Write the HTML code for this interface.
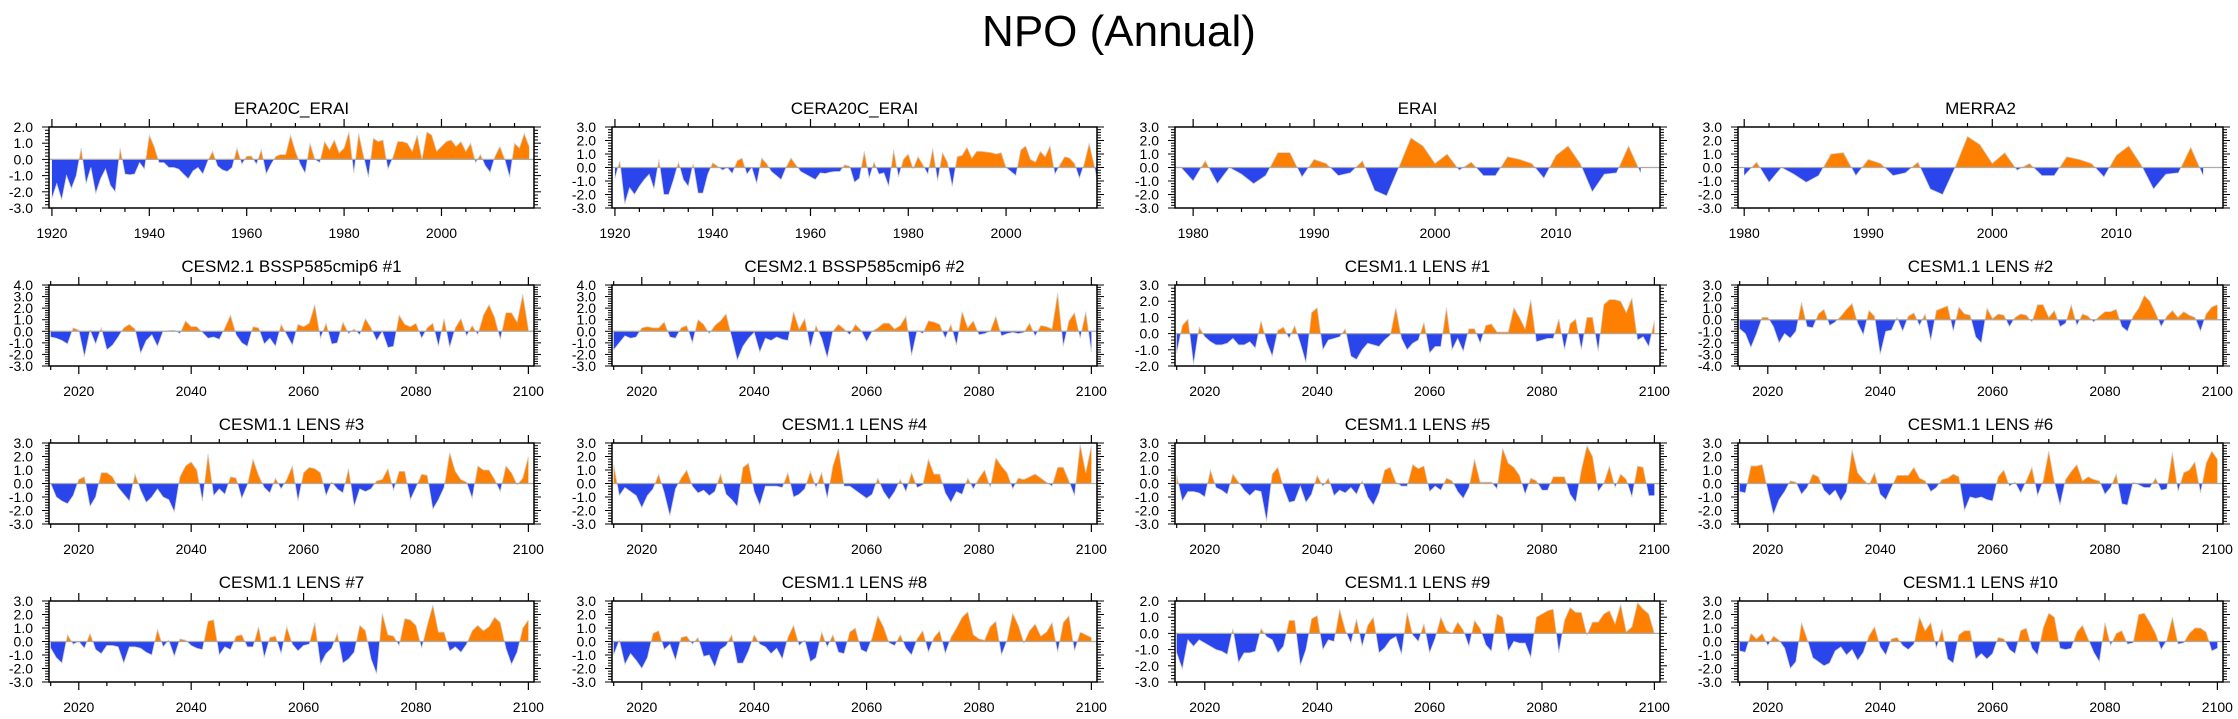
<!DOCTYPE html>
<html><head><meta charset="utf-8"><style>
html,body{margin:0;padding:0;background:#fff;}
svg{display:block;font-family:"Liberation Sans",sans-serif;}
</style></head><body>
<svg id="chart" width="2238" height="719" viewBox="0 0 2238 719" xmlns="http://www.w3.org/2000/svg">
<rect width="2238" height="719" fill="#fff"/>
<text x="1119" y="46" text-anchor="middle" font-size="44">NPO (Annual)</text>
</svg>
<script>
const titles = ["ERA20C_ERAI","CERA20C_ERAI","ERAI","MERRA2","CESM2.1 BSSP585cmip6 #1","CESM2.1 BSSP585cmip6 #2","CESM1.1 LENS #1","CESM1.1 LENS #2","CESM1.1 LENS #3","CESM1.1 LENS #4","CESM1.1 LENS #5","CESM1.1 LENS #6","CESM1.1 LENS #7","CESM1.1 LENS #8","CESM1.1 LENS #9","CESM1.1 LENS #10"];
const startYears = [1920,1920,1979,1980,2015,2015,2015,2015,2015,2015,2015,2015,2015,2015,2015,2015];
const yMins = [-3,-3,-3,-3,-3,-3,-2,-4,-3,-3,-3,-3,-3,-3,-3,-3];
const yMaxs = [2,3,3,3,4,4,3,3,3,3,3,3,3,3,2,3];
const xMins = [1919.4,1919.4,1978.5,1979.5,2014.7,2014.7,2014.7,2014.7,2014.7,2014.7,2014.7,2014.7,2014.7,2014.7,2014.7,2014.7];
const xMaxs = [2019,2018.6,2018.6,2018.6,2101,2101,2101,2101,2101,2101,2101,2101,2101,2101,2101,2101];
const histTicks = [1920,1940,1960,1980,2000];
const reanTicks = [1980,1990,2000,2010];
const projTicks = [2020,2040,2060,2080,2100];

const valsERA20C = [-2.4,-1.5,-2.5,-1.0,-1.8,-1.0,0.7,-1.5,-0.5,-2.1,-1.2,-0.6,-1.6,-2.0,0.7,-0.9,-0.95,-0.9,-0.2,-0.6,1.5,0.8,-0.2,-0.2,-0.5,-0.5,-0.6,-0.9,-1.2,-0.7,-0.5,-0.9,-0.1,0.5,-0.4,-0.65,-0.75,-0.5,0.7,-0.3,0.2,0.2,-0.3,0.6,-0.9,-0.3,0.2,0.3,0.3,1.5,0.5,-0.3,-0.85,1.0,0.0,-0.2,1.1,0.6,1.2,0.4,0.7,1.7,-0.85,1.6,0.2,-1.1,1.3,1.1,1.2,-0.6,0.1,1.1,1.1,1.0,0.5,1.5,0.0,1.7,1.5,0.5,0.8,1.1,1.2,0.8,1.1,0.5,1.0,-0.2,0.3,-0.4,-0.8,0.2,0.8,0.0,-1.1,1.0,0.7,1.6,0.8];
const valsCERA20C = [-0.8,0.5,-2.7,-1.5,-2.0,-1.4,-0.9,-0.5,-1.6,0.6,-2.0,-2.0,-0.9,0.4,-0.9,-1.4,0.3,-1.9,-1.9,-0.5,0.35,0.1,-0.2,0.0,-0.45,0.5,0.7,-0.5,0.0,-1.2,0.7,0.3,-0.3,-0.6,-0.9,0.0,0.7,0.2,-0.3,-0.5,-0.7,-0.9,-0.4,-0.45,-0.35,-0.3,-0.3,0.2,0.1,-1.1,-0.8,1.2,-0.8,0.4,-0.5,-0.4,-1.4,1.3,-0.7,0.6,1.0,-0.1,0.8,0.2,-0.5,1.4,-1.0,1.1,0.4,-1.4,0.8,0.9,1.5,0.7,1.2,1.2,1.15,1.1,1.0,1.1,0.0,-0.3,-0.6,1.3,1.6,0.6,0.4,1.2,0.8,1.6,-0.5,0.2,0.8,0.7,0.3,-0.8,0.3,1.8];
const valsCERA20Ctail = [0.2,-1.6,0.5,0.7,2.0,1.0];
const valsERAI = [0.0,-1.0,0.5,-1.2,0.0,-0.5,-1.2,-0.6,1.1,1.1,-0.7,0.6,0.3,-0.6,-0.4,0.5,-1.7,-2.1,0.0,2.2,1.6,0.3,1.0,-0.2,0.4,-0.6,-0.6,0.8,0.6,0.3,-0.8,0.9,1.6,0.3,-1.8,-0.5,-0.4,1.6,-0.4];
const valsMERRA2 = [-0.6,0.4,-1.1,0.0,-0.5,-1.1,-0.6,1.0,1.1,-0.6,0.6,0.3,-0.6,-0.4,0.4,-1.6,-2.0,0.0,2.3,1.7,0.3,1.1,-0.2,0.3,-0.6,-0.6,0.8,0.6,0.3,-0.7,0.9,1.6,0.2,-1.6,-0.5,-0.4,1.5,-0.6];
const valsCESM2a = [-0.5,-0.6,-0.8,-1.1,0.3,0.1,-2.2,0.1,-1.1,0.3,-1.6,-1.2,-0.5,0.3,0.6,0.2,-1.9,-0.8,-0.3,-1.3,0.0,0.05,0.1,-0.2,0.9,0.4,0.4,-0.1,-0.6,-0.5,-0.7,0.3,1.4,-0.3,-1.0,-1.3,0.4,0.3,-1.1,-0.6,-1.3,0.6,-0.3,-1.2,0.6,0.4,0.7,2.3,-0.6,0.7,-1.1,-1.0,0.8,-0.2,0.2,-0.3,1.1,0.3,-0.8,0.0,-1.4,-1.3,1.4,0.6,0.4,0.7,-0.6,0.3,0.7,-1.3,1.1,-1.4,0.3,1.1,-0.4,0.5,-0.3,1.4,2.3,1.2,-0.7,1.6,1.6,0.8,3.2,0.2];
const valsCESM2b = [-1.6,-1.0,-0.4,-0.6,-0.5,0.3,0.4,0.3,0.3,0.8,-0.5,-0.6,0.3,0.5,-1.0,1.0,0.6,-0.2,0.5,0.9,1.5,-0.5,-2.5,-1.3,-0.6,-0.1,-1.8,-0.6,-0.8,-0.5,-0.7,-0.8,1.7,0.2,1.1,-1.4,0.5,-0.6,-2.3,0.0,0.6,0.2,-0.3,0.6,0.1,-0.9,0.0,0.3,0.7,0.7,0.2,0.5,1.3,-2.1,0.1,-0.2,0.9,0.8,0.6,-0.6,0.6,-1.2,1.7,0.3,0.9,-0.3,-0.2,0.0,1.3,-0.4,-0.2,-0.1,-0.2,-0.1,0.7,-0.4,0.5,0.4,0.2,3.3,-1.3,0.9,1.6,-0.6,1.7,-1.8];
const valsLENS1 = [-1.2,0.5,0.9,-1.9,0.4,-0.2,-0.5,-0.7,-0.7,-0.6,-0.3,-0.7,-0.7,-0.5,-0.9,0.8,-0.5,-1.4,0.2,0.4,-0.3,0.5,-0.6,-1.8,1.3,1.6,-1.0,-0.4,-0.3,-0.2,0.3,-1.4,-1.6,-1.0,-0.6,-0.7,-0.8,-0.4,-0.1,1.6,-0.3,-1.0,-0.6,-0.4,0.7,-1.2,-0.8,-0.8,1.6,-1.0,-0.3,-1.1,0.3,0.3,-0.6,0.5,0.6,0.1,0.1,0.1,1.6,1.0,0.3,2.1,-0.5,-0.4,-0.3,-0.3,0.9,-1.0,0.6,0.9,-1.0,1.0,1.0,-1.1,1.8,2.1,2.1,2.0,1.3,2.2,-0.4,-0.2,-0.8,0.8];
const valsLENS2 = [-0.8,-1.2,-2.4,-1.2,0.2,0.2,-0.6,-2.0,-1.2,-1.6,-1.0,1.5,-0.6,-0.7,0.5,0.9,-0.5,-0.2,0.3,0.9,1.4,-0.3,-1.3,0.8,0.3,-3.0,-1.0,-0.9,0.2,-1.0,0.3,0.6,-0.5,0.5,-1.8,0.8,1.0,1.2,-1.0,1.1,0.5,0.4,-1.5,-2.0,1.0,0.1,0.5,0.4,-0.6,0.2,0.5,0.4,-0.2,1.3,1.3,0.2,0.8,-0.6,-0.3,1.3,-0.5,0.5,0.3,-0.2,0.3,0.7,0.7,0.9,-0.6,-1.0,0.3,1.0,2.1,1.6,0.6,-0.6,0.3,0.8,0.2,0.7,0.4,0.2,-1.0,0.5,1.1,1.3];
const valsLENS3 = [0.0,-1.0,-1.3,-1.5,-0.9,0.3,0.5,-1.7,-1.0,0.8,0.8,0.5,-0.3,-0.8,-1.3,0.7,-0.5,-1.4,-1.0,-0.4,-1.0,-1.2,-2.1,0.5,1.3,1.6,1.0,-1.3,2.2,-0.9,-0.4,-0.8,0.5,0.4,-1.1,-0.1,1.8,0.6,-0.3,-0.7,0.4,-0.4,0.3,1.3,-1.3,0.8,1.2,1.1,0.8,-0.9,0.1,-0.4,-0.7,1.1,-1.7,-0.4,-0.6,-0.4,0.2,0.3,1.1,-0.5,0.9,0.9,-1.2,-0.3,0.7,0.6,-1.9,-1.2,-0.3,2.3,0.9,0.3,0.1,-1.1,1.3,1.0,1.0,0.3,-0.6,1.3,0.8,-0.1,0.4,2.0];
const valsLENS4 = [1.4,-0.9,-0.3,-0.6,-0.9,-1.8,-0.9,-0.4,0.7,-0.7,-2.4,-0.4,0.4,1.0,-0.2,-0.7,-0.5,-0.9,-0.6,0.7,-0.8,-1.2,-1.7,1.2,1.5,-0.6,-1.6,-0.2,-0.2,-0.2,-0.3,0.8,-1.0,-0.8,-0.4,0.9,-0.3,0.8,-1.1,1.3,2.6,-0.2,-0.2,-0.5,-0.8,-1.1,-0.8,0.4,-0.6,-1.2,-0.6,0.3,-0.6,0.8,-0.3,-0.1,1.8,0.7,0.7,-0.7,-1.4,-0.6,-0.8,0.4,-0.4,0.4,1.0,-0.3,1.9,1.3,0.8,-0.4,0.4,0.3,0.5,0.7,0.4,0.1,-0.2,1.2,1.2,0.2,-0.9,2.9,0.8,2.8];
const valsLENS5 = [0.6,-1.3,-0.6,-0.6,-0.7,-1.0,1.0,-0.3,-0.5,-0.8,0.7,0.1,-0.5,-0.9,-0.5,-0.6,-2.8,0.7,1.2,-0.3,-1.4,-1.3,-0.2,-1.4,-0.8,0.6,-0.2,0.4,-0.9,-0.5,-0.7,-0.3,-0.8,0.2,-1.0,-1.6,-0.7,1.0,1.2,0.1,-0.2,-0.2,1.4,1.1,1.3,-0.6,-0.2,-0.5,0.4,0.2,-0.6,-1.1,-0.3,1.8,0.1,0.1,0.1,-0.4,2.6,1.5,1.2,0.6,-0.8,0.4,0.2,-0.5,-0.5,0.5,0.5,0.5,-0.8,-1.4,1.0,2.8,2.0,-0.6,0.0,1.3,-0.3,0.7,0.3,-1.0,1.3,1.2,-0.9,-0.9];
const valsLENS6 = [-0.6,-0.7,1.3,1.3,1.4,-0.5,-2.3,-1.2,-0.6,0.2,0.1,-0.8,-0.3,0.7,0.5,-0.5,-0.9,-0.5,-1.3,-0.6,2.5,0.8,0.3,-0.1,0.8,-0.8,-1.2,-0.3,0.6,0.6,0.6,1.2,0.4,0.2,-0.6,-0.3,0.3,0.4,0.7,0.5,-2.0,-1.0,-1.1,-1.0,-1.2,-1.3,0.5,1.0,-0.2,0.1,-0.7,0.2,1.2,-0.9,0.2,2.4,0.1,-1.6,0.3,0.9,1.4,0.2,0.5,0.3,0.2,-0.8,-0.3,0.7,-1.5,-1.6,0.1,-0.1,-0.3,-0.3,0.4,-0.5,-0.4,2.3,-0.6,0.8,1.0,1.6,-0.7,1.5,2.4,1.8];
const valsLENS7 = [-0.5,-1.2,-1.6,0.5,-0.2,0.0,-0.5,0.6,-0.6,-0.9,-0.3,-0.3,-0.4,-1.6,-0.4,-0.4,-0.5,-0.8,-1.0,0.9,-0.4,0.1,-1.1,0.2,0.1,-0.3,-0.5,-0.6,1.5,1.6,-1.0,-0.4,-0.6,0.4,0.5,-0.4,-0.4,1.1,-1.2,0.3,0.4,-0.9,1.1,-0.2,-0.7,-0.3,-0.2,1.4,-1.7,-0.9,-0.5,0.6,-1.6,-1.3,-0.8,1.2,0.8,-1.3,-2.4,2.1,0.5,0.4,-0.3,1.7,1.6,1.2,-0.5,1.2,2.7,0.7,0.7,-0.7,-0.4,-0.8,-0.2,0.8,1.2,0.8,1.1,1.8,1.4,-0.5,-1.7,-0.8,1.0,1.6];
const valsLENS8 = [-1.0,0.1,-1.7,-0.9,-1.4,-2.0,-1.2,0.6,0.8,-0.6,-0.2,-1.4,0.3,0.4,-0.2,0.3,-1.1,-1.0,-1.9,-0.6,-0.3,0.5,-1.6,-1.6,-0.7,0.5,-0.2,-0.4,-0.9,-0.5,-1.3,0.3,1.2,-0.3,0.1,-1.5,-1.2,0.7,-0.4,0.5,-0.8,-0.9,0.7,1.0,-0.6,-0.8,0.3,1.9,1.1,-0.1,-0.3,0.5,-0.5,-1.0,0.2,0.8,-0.8,0.3,0.8,-0.9,0.3,1.0,1.8,2.2,0.5,0.2,0.1,1.1,1.5,-1.0,0.1,2.1,1.2,-0.1,0.8,1.3,0.4,0.7,1.4,-0.8,1.4,1.9,-0.7,0.7,0.5,0.3];
const valsLENS9 = [-1.2,-2.2,-0.4,-0.8,-0.4,-0.6,-0.8,-1.0,-1.1,-1.3,0.3,-1.8,-1.2,-1.2,-1.1,0.3,-0.2,-0.4,-1.2,-0.8,0.8,0.8,-2.0,-1.0,0.9,1.1,-1.0,-0.4,-0.5,1.5,0.2,-0.6,0.9,-0.8,0.5,1.0,-1.2,-0.9,-0.4,-0.2,-1.3,1.3,-0.1,-0.5,0.6,-1.2,-0.3,1.0,0.2,0.0,0.7,0.2,-0.8,0.8,0.3,-0.7,-1.1,1.2,1.0,-1.1,-0.5,-0.6,-0.6,-1.5,1.0,1.2,1.4,1.5,-1.2,0.8,1.6,1.3,1.3,-0.1,0.7,0.7,1.2,1.4,0.6,1.8,0.1,0.4,1.9,1.5,1.2,0.0];
const valsLENS10 = [-0.7,-0.8,0.6,0.2,0.6,-0.3,0.4,0.1,-0.5,-2.0,-1.5,1.4,0.2,-1.2,-1.5,-1.8,-1.6,-0.7,-0.4,-1.0,-0.6,-1.4,-0.8,0.4,1.1,-0.4,-1.0,0.2,0.3,-0.3,-0.6,-0.2,1.8,0.8,1.4,-0.5,0.9,-1.3,-1.6,0.5,0.8,0.8,-1.3,-0.9,-1.3,-0.9,0.3,0.2,-0.6,-0.9,0.8,1.0,-0.5,-1.0,1.0,2.1,1.8,-0.5,-0.6,-0.5,0.7,1.2,0.2,-0.8,-1.5,1.4,-0.3,0.6,0.8,-0.2,-0.1,2.0,2.1,1.4,0.6,-0.6,0.1,1.8,-0.2,-0.1,0.6,1.0,1.0,0.7,-0.7,-0.5];

const series = [valsERA20C, valsCERA20C.concat(valsCERA20Ctail), valsERAI, valsMERRA2, valsCESM2a, valsCESM2b, valsLENS1, valsLENS2, valsLENS3, valsLENS4, valsLENS5, valsLENS6, valsLENS7, valsLENS8, valsLENS9, valsLENS10];

const NS = "http://www.w3.org/2000/svg";
const svg = document.getElementById("chart");
function mk(tag, attrs, parent){ const e=document.createElementNS(NS,tag); for(const k in attrs) e.setAttribute(k,attrs[k]); parent.appendChild(e); return e; }
const lefts=[49,612,1175,1738], tops=[127,285,443,601], W=485, H=81;

series.forEach((vals,i)=>{
  const L=lefts[i%4], T=tops[Math.floor(i/4)];
  const x0=xMins[i], x1=xMaxs[i], y0=yMins[i], y1=yMaxs[i];
  const sx=v=>L+(v-x0)/(x1-x0)*W;
  const sy=v=>T+H-(v-y0)/(y1-y0)*H;
  const g=mk("g",{},svg);
  
  
  const t=mk("text",{x:L+W/2,y:T-13,"text-anchor":"middle","font-size":"17"},g);
  t.textContent=titles[i];
  
  
  const cid="clip"+i;
  const cp=mk("clipPath",{id:cid},g); mk("rect",{x:L,y:T,width:W,height:H},cp);
  const pg=mk("g",{"clip-path":"url(#"+cid+")"},g);
  const pts=[];
  for(let k=0;k<vals.length;k++){
    const yr=startYears[i]+k, v=vals[k];
    if(k>0){const pv=vals[k-1]; if((pv>0&&v<0)||(pv<0&&v>0)){const f=pv/(pv-v); pts.push([yr-1+f,0]);}}
    pts.push([yr,v]);
  }
  const xa=pts[0][0], xb=pts[pts.length-1][0];
  ["pos","neg"].forEach(kind=>{
    let d="M"+sx(xa)+","+sy(0);
    pts.forEach(p=>{const v=kind==="pos"?Math.max(p[1],0):Math.min(p[1],0); d+=" L"+sx(p[0]).toFixed(2)+","+sy(v).toFixed(2);});
    d+=" L"+sx(xb)+","+sy(0)+" Z";
    const a=mk("path",{d:d,fill:kind==="pos"?"#ff8000":"#2b45ec",stroke:"none"},pg);
    
    
  });
  let ld="";
  pts.forEach((p,k)=>{ld+=(k?" L":"M")+sx(p[0]).toFixed(2)+","+sy(p[1]).toFixed(2);});
  mk("path",{d:ld,fill:"none",stroke:"#d0d0d0","stroke-width":"0.8"},pg);
  const zl=mk("line",{x1:L,x2:L+W,y1:sy(0),y2:sy(0),stroke:"#aaaaaa","stroke-width":"1.2"},g);
  
  
  for(let v=y0; v<=y1+1e-6; v+=0.2){
    const vv=Math.round(v*10)/10, y=sy(vv), major=Math.abs(vv-Math.round(vv))<1e-6;
    const len=major?7:4;
    mk("line",{x1:L-len,x2:L,y1:y,y2:y,stroke:"#000","stroke-width":"1"},g);
    mk("line",{x1:L+W,x2:L+W+len,y1:y,y2:y,stroke:"#000","stroke-width":"1"},g);
    if(major){
      const lb=mk("text",{x:L-16,y:y+5,"text-anchor":"end","font-size":"14"},g);
      lb.textContent=vv.toFixed(1);
      
      
    }
  }
  const majors=i<2?histTicks:(i<4?reanTicks:projTicks);
  const step=i<2?5:(i<4?2:5);
  for(let yr=Math.ceil(x0/step)*step; yr<=x1; yr+=step){
    const x=sx(yr), major=majors.indexOf(yr)>=0, len=major?8:4;
    mk("line",{x1:x,x2:x,y1:T-len,y2:T,stroke:"#000","stroke-width":"1.2"},g);
    mk("line",{x1:x,x2:x,y1:T+H,y2:T+H+len,stroke:"#000","stroke-width":"1.2"},g);
    if(major){
      const lb=mk("text",{x:x,y:T+H+30,"text-anchor":"middle","font-size":"14"},g);
      lb.textContent=yr;
      
      
    }
  }
  const fr=mk("rect",{x:L,y:T,width:W,height:H,fill:"none",stroke:"#000","stroke-width":"1.5"},g);
  
  
});
</script>
</body></html>
